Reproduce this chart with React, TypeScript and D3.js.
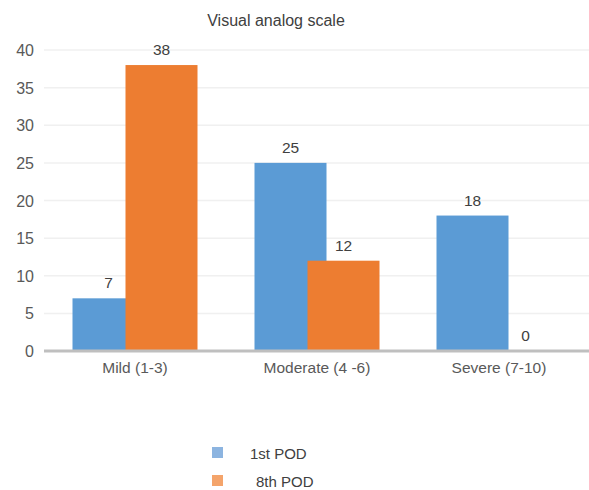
import React from "react";
import * as d3 from "d3";

const categories = ["Mild (1-3)", "Moderate (4 -6)", "Severe (7-10)"];
const series1 = [7, 25, 18];
const series2 = [38, 12, 0];
const seriesNames = ["1st POD", "8th POD"];
const yTicks = [0, 5, 10, 15, 20, 25, 30, 35, 40];

export default function App() {
  const W = 589, H = 490;
  const x0 = 44, x1 = 590;
  const y = d3.scaleLinear().domain([0, 40]).range([351, 50]);
  const x = d3.scaleBand().domain(categories).range([x0, x1]).padding(0);
  const barW = 72;
  const off = 26.5;
  const font = "'Liberation Sans', Arial, sans-serif";
  const text = "#404040";
  return (
    <svg width={W} height={H} style={{ position: "absolute", left: 0, top: 0 }}>
      <rect width={W} height={H} fill="#fff" />
      <text x={276} y={26} textAnchor="middle" fontFamily={font} fontSize={16} fill={text}>Visual analog scale</text>
      {yTicks.map((t) => (
        <g key={t}>
          {t > 0 && <line x1={x0} x2={W} y1={y(t)} y2={y(t)} stroke="#f0f0f0" strokeWidth={1.5} />}
          <text x={34} y={y(t) + 6} textAnchor="end" fontFamily={font} fontSize={16} fill="#595959">{t}</text>
        </g>
      ))}
      {categories.map((c, i) => {
        const cx = (x(c) as number) + x.bandwidth() / 2;
        return (
          <g key={c}>
            <rect x={cx - off - barW / 2} y={y(series1[i])} width={barW} height={y(0) - y(series1[i])} fill="#5b9bd5" />
            <rect x={cx + off - barW / 2} y={y(series2[i])} width={barW} height={y(0) - y(series2[i])} fill="#ed7d31" />
            <text x={cx - off} y={y(series1[i]) - 10} textAnchor="middle" fontFamily={font} fontSize={15.5} fill={text}>{series1[i]}</text>
            <text x={cx + off} y={y(series2[i]) - 10} textAnchor="middle" fontFamily={font} fontSize={15.5} fill={text}>{series2[i]}</text>
            <text x={cx} y={373} textAnchor="middle" fontFamily={font} fontSize={15.5} fill="#595959">{c}</text>
          </g>
        );
      })}
      <line x1={x0} x2={W} y1={y(0)} y2={y(0)} stroke="#bfbfbf" strokeWidth={3} />
      {seriesNames.map((n, i) => (
        <g key={n}>
          <rect x={212} y={447 + i * 28} width={11} height={11} fill={i === 0 ? "#8cb4e0" : "#f4a46b"} />
          <text x={250 + i * 6} y={459 + i * 28} fontFamily={font} fontSize={15} fill={text}>{n}</text>
        </g>
      ))}
    </svg>
  );
}
